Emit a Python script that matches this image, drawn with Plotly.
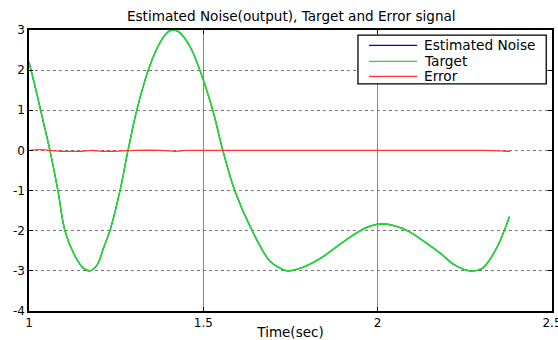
import plotly.graph_objects as go

# time samples (sec)
time_sec = [1.0, 1.02, 1.04, 1.06, 1.083, 1.103, 1.13, 1.155, 1.175, 1.195, 1.215, 1.232,
            1.261, 1.284, 1.309, 1.342, 1.365, 1.384, 1.40, 1.413, 1.43, 1.461, 1.49, 1.527,
            1.556, 1.59, 1.64, 1.69, 1.72, 1.742, 1.78, 1.834, 1.89, 1.94, 1.98, 2.014, 2.05,
            2.09, 2.13, 2.178, 2.22, 2.264, 2.30, 2.34, 2.378]
target = [2.2, 1.5, 0.75, 0.0, -1.0, -2.0, -2.6, -2.92, -3.0, -2.85, -2.4, -2.0,
          -1.0, 0.0, 1.0, 2.0, 2.5, 2.8, 2.96, 3.0, 2.95, 2.6, 2.0, 1.0,
          0.0, -1.0, -2.0, -2.75, -2.93, -3.0, -2.93, -2.7, -2.35, -2.05, -1.88, -1.83, -1.88,
          -2.02, -2.25, -2.55, -2.85, -3.0, -2.93, -2.45, -1.65]
estimated_noise = [2.2, 1.5, 0.75, 0.0, -1.0, -2.0, -2.6, -2.93, -3.0, -2.86, -2.4, -2.0,
                   -1.0, 0.0, 1.0, 2.0, 2.5, 2.8, 2.96, 3.0, 2.95, 2.6, 2.0, 1.0,
                   0.0, -1.0, -2.0, -2.75, -2.93, -3.0, -2.93, -2.7, -2.35, -2.05, -1.88, -1.83, -1.88,
                   -2.02, -2.25, -2.55, -2.85, -3.0, -2.94, -2.45, -1.65]
time_err = [1.0, 1.03, 1.06, 1.09, 1.15, 1.18, 1.21, 1.24, 1.30, 1.38, 1.42, 1.45, 1.50,
            1.70, 2.0, 2.30, 2.35, 2.37, 2.38]
error = [0.0, 0.02, 0.0, -0.02, -0.02, 0.0, -0.02, -0.02, 0.0, 0.0, -0.02, 0.0, 0.0,
         0.0, 0.0, 0.0, -0.01, -0.02, -0.02]

x_ticks = [1, 1.5, 2, 2.5]
x_tick_labels = ["1", "1.5", "2", "2.5"]
y_ticks = [-4, -3, -2, -1, 0, 1, 2, 3]
y_tick_labels = ["-4", "-3", "-2", "-1", "0", "1", "2", "3"]

series_names = ["Estimated Noise", "Target", "Error"]
series_colors = ["#0000ff", "#22dd22", "#ff3333"]

fig = go.Figure()
fig.add_trace(go.Scatter(x=time_sec, y=estimated_noise, mode="lines", name=series_names[0],
                         line=dict(color=series_colors[0], width=1.2, shape="spline")))
fig.add_trace(go.Scatter(x=time_sec, y=target, mode="lines", name=series_names[1],
                         line=dict(color=series_colors[1], width=1.6, shape="spline")))
fig.add_trace(go.Scatter(x=time_err, y=error, mode="lines", name=series_names[2],
                         line=dict(color=series_colors[2], width=1.3, shape="spline")))

font_family = "DejaVu Sans, Verdana, sans-serif"

# legend drawn as box + sample lines + labels (paper coordinates)
shapes = [dict(type="rect", xref="paper", yref="paper", x0=0.629, x1=0.989, y0=0.808, y1=0.982,
               line=dict(color="black", width=1.3), fillcolor="white", layer="above")]
annotations = []
row_y = [0.945, 0.888, 0.835]
for name, color, yy in zip(series_names, series_colors, row_y):
    shapes.append(dict(type="line", xref="paper", yref="paper", x0=0.650, x1=0.742, y0=yy, y1=yy,
                       line=dict(color=color, width=1.3), layer="above"))
    annotations.append(dict(text=name, xref="paper", yref="paper", x=0.751, y=yy,
                            xanchor="left", yanchor="middle", showarrow=False,
                            font=dict(size=13.7, family=font_family, color="black")))

fig.update_layout(
    width=558, height=340,
    margin=dict(l=29, r=6, t=30, b=29),
    paper_bgcolor="white", plot_bgcolor="white",
    font=dict(family=font_family, size=12, color="black"),
    title=dict(text="Estimated Noise(output), Target and Error signal", x=0.522, xanchor="center",
               yref="container", y=0.952, yanchor="middle", font=dict(size=13.6)),
    showlegend=False,
    shapes=shapes,
    annotations=annotations,
    xaxis=dict(range=[1, 2.5], tickvals=x_ticks, ticktext=x_tick_labels,
               showline=True, linecolor="black", linewidth=1.5, mirror="ticks",
               ticks="inside", ticklen=4, tickcolor="black", automargin=False,
               ticklabeloverflow="allow",
               showgrid=True, gridcolor="#888888", gridwidth=1, griddash="solid",
               zeroline=False,
               title=dict(text="Time(sec)", standoff=2, font=dict(size=13.5))),
    yaxis=dict(range=[-4, 3], tickvals=y_ticks, ticktext=y_tick_labels,
               showline=True, linecolor="black", linewidth=1.5, mirror="ticks",
               ticks="inside", ticklen=4, tickcolor="black", automargin=False,
               showgrid=True, gridcolor="#777777", gridwidth=1, griddash="dot",
               zeroline=False),
)

fig.write_html("out.html", config={"displayModeBar": False},
               post_script="document.body.style.margin='0';document.body.style.padding='0';")
